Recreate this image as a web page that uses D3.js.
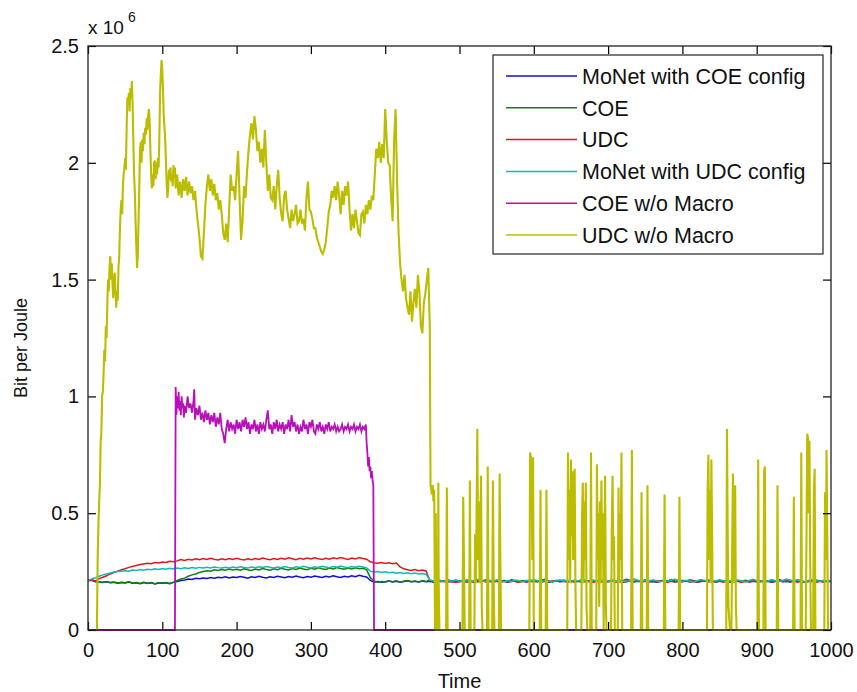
<!DOCTYPE html>
<html><head><meta charset="utf-8">
<script src="https://cdn.jsdelivr.net/npm/d3@7"></script>
<style>body{margin:0;background:#fff}text{font-family:"Liberation Sans",Arial,sans-serif}</style>
</head><body><svg id="c" width="857" height="692"></svg>
<script>
// ---- data (values in units of 10^6 bit per Joule) ----
const xTicks = [0,100,200,300,400,500,600,700,800,900,1000];
const yTicks = [0,0.5,1,1.5,2,2.5];
const seriesNames = ["MoNet with COE config","COE","UDC","MoNet with UDC config","COE w/o Macro","UDC w/o Macro"];
const seriesColors = ["#1010d0","#108010","#e01818","#10b8b8","#b810b8","#bcbc00"];
// sample times for the four low series (every 5 time units)
const lowTimes = d3.range(0, 1001, 5);

const monetCoe = [
0.211,0.213,0.207,0.205,0.203,0.206,0.202,0.204,0.200,0.203,
0.201,0.205,0.200,0.202,0.198,0.203,0.199,0.202,0.197,0.201,
0.200,0.202,0.198,0.204,0.208,0.212,0.214,0.218,0.216,0.221,
0.219,0.223,0.221,0.225,0.222,0.226,0.224,0.228,0.223,0.227,
0.225,0.229,0.226,0.222,0.228,0.225,0.230,0.226,0.223,0.228,
0.225,0.230,0.227,0.224,0.229,0.226,0.231,0.227,0.224,0.229,
0.226,0.231,0.228,0.225,0.230,0.227,0.232,0.228,0.225,0.230,
0.227,0.232,0.228,0.234,0.230,0.227,0.212,0.205,0.208,0.204,
0.207,0.210,0.206,0.209,0.205,0.208,0.211,0.207,0.209,0.206,
0.210,0.207,0.209,0.205,0.208,0.211,0.207,0.210,0.206,0.209,
0.207,0.210,0.206,0.209,0.205,0.208,0.211,0.207,0.209,0.206,
0.210,0.207,0.209,0.205,0.208,0.211,0.207,0.210,0.206,0.209,
0.207,0.210,0.206,0.209,0.205,0.208,0.211,0.207,0.209,0.206,
0.210,0.207,0.209,0.205,0.208,0.211,0.207,0.210,0.206,0.209,
0.207,0.210,0.206,0.209,0.205,0.208,0.211,0.207,0.209,0.206,
0.210,0.207,0.209,0.205,0.208,0.211,0.207,0.210,0.206,0.209,
0.207,0.210,0.206,0.209,0.205,0.208,0.211,0.207,0.209,0.206,
0.210,0.207,0.209,0.205,0.208,0.211,0.207,0.210,0.206,0.209,
0.207,0.210,0.206,0.209,0.205,0.208,0.211,0.207,0.209,0.206,
0.210,0.207,0.209,0.205,0.208,0.211,0.207,0.210,0.206,0.209,
0.208];

const coe = [
0.212,0.215,0.208,0.206,0.204,0.207,0.203,0.205,0.201,0.204,
0.202,0.206,0.201,0.203,0.199,0.204,0.200,0.203,0.198,0.202,
0.201,0.203,0.199,0.205,0.212,0.218,0.222,0.230,0.236,0.240,
0.246,0.250,0.254,0.252,0.258,0.255,0.259,0.256,0.261,0.257,
0.260,0.256,0.262,0.258,0.255,0.261,0.257,0.263,0.259,0.256,
0.262,0.258,0.264,0.260,0.257,0.263,0.259,0.265,0.261,0.258,
0.264,0.260,0.266,0.262,0.259,0.265,0.261,0.267,0.263,0.260,
0.265,0.261,0.266,0.262,0.264,0.258,0.224,0.210,0.205,0.208,
0.206,0.210,0.207,0.211,0.205,0.209,0.212,0.207,0.210,0.206,
0.211,0.208,0.213,0.209,0.206,0.212,0.208,0.214,0.210,0.207,
0.212,0.208,0.214,0.209,0.206,0.213,0.209,0.215,0.210,0.207,
0.211,0.207,0.213,0.208,0.216,0.210,0.206,0.212,0.209,0.214,
0.210,0.206,0.213,0.217,0.211,0.207,0.212,0.208,0.214,0.209,
0.206,0.212,0.208,0.215,0.210,0.207,0.213,0.209,0.205,0.211,
0.208,0.214,0.210,0.206,0.212,0.217,0.211,0.207,0.213,0.209,
0.215,0.210,0.206,0.212,0.208,0.214,0.210,0.216,0.211,0.207,
0.213,0.209,0.215,0.211,0.207,0.212,0.208,0.214,0.210,0.206,
0.212,0.208,0.214,0.209,0.216,0.211,0.207,0.213,0.209,0.215,
0.210,0.206,0.212,0.208,0.214,0.210,0.216,0.211,0.207,0.213,
0.209,0.215,0.210,0.206,0.212,0.208,0.214,0.210,0.207,0.212,
0.209];

const udc = [
0.212,0.215,0.210,0.220,0.226,0.232,0.240,0.246,0.252,0.258,
0.262,0.268,0.272,0.276,0.280,0.283,0.286,0.284,0.289,0.287,
0.291,0.289,0.294,0.292,0.296,0.302,0.298,0.303,0.300,0.305,
0.301,0.306,0.302,0.307,0.303,0.300,0.305,0.301,0.306,0.302,
0.307,0.303,0.300,0.305,0.301,0.306,0.302,0.308,0.304,0.301,
0.306,0.302,0.307,0.303,0.309,0.305,0.301,0.307,0.303,0.308,
0.304,0.309,0.305,0.302,0.307,0.303,0.309,0.305,0.310,0.306,
0.302,0.308,0.304,0.310,0.306,0.303,0.292,0.288,0.286,0.289,
0.285,0.288,0.284,0.287,0.270,0.262,0.258,0.255,0.259,0.254,
0.257,0.253,0.212,0.208,0.211,0.207,0.210,0.206,0.209,0.205,
0.208,0.211,0.207,0.210,0.206,0.209,0.212,0.208,0.210,0.207,
0.209,0.206,0.210,0.207,0.211,0.208,0.205,0.209,0.207,0.210,
0.208,0.211,0.207,0.210,0.206,0.209,0.212,0.208,0.210,0.207,
0.209,0.206,0.210,0.207,0.211,0.208,0.205,0.209,0.207,0.210,
0.208,0.211,0.207,0.210,0.206,0.209,0.212,0.208,0.210,0.207,
0.209,0.206,0.210,0.207,0.211,0.208,0.205,0.209,0.207,0.210,
0.208,0.211,0.207,0.210,0.206,0.209,0.212,0.208,0.210,0.207,
0.209,0.206,0.210,0.207,0.211,0.208,0.205,0.209,0.207,0.210,
0.208,0.211,0.207,0.210,0.206,0.209,0.212,0.208,0.210,0.207,
0.209,0.206,0.210,0.207,0.211,0.208,0.205,0.209,0.207,0.210,
0.208];

const monetUdc = [
0.212,0.218,0.224,0.230,0.236,0.240,0.244,0.248,0.250,0.252,
0.254,0.252,0.257,0.255,0.259,0.256,0.260,0.258,0.262,0.259,
0.263,0.260,0.264,0.261,0.265,0.262,0.266,0.263,0.267,0.264,
0.268,0.265,0.269,0.266,0.270,0.267,0.265,0.269,0.266,0.270,
0.267,0.271,0.268,0.265,0.270,0.267,0.271,0.268,0.272,0.269,
0.266,0.270,0.267,0.272,0.268,0.265,0.271,0.268,0.273,0.269,
0.266,0.271,0.268,0.273,0.270,0.267,0.272,0.269,0.274,0.270,
0.267,0.272,0.269,0.273,0.270,0.266,0.252,0.248,0.250,0.246,
0.249,0.245,0.247,0.243,0.246,0.242,0.245,0.241,0.244,0.240,
0.242,0.238,0.214,0.210,0.216,0.211,0.207,0.213,0.209,0.215,
0.209,0.214,0.210,0.206,0.212,0.217,0.211,0.208,0.213,0.209,
0.215,0.210,0.207,0.212,0.208,0.214,0.211,0.206,0.213,0.209,
0.216,0.211,0.207,0.212,0.209,0.205,0.211,0.215,0.210,0.213,
0.208,0.214,0.210,0.217,0.212,0.208,0.213,0.209,0.215,0.211,
0.207,0.212,0.208,0.214,0.210,0.206,0.213,0.218,0.212,0.208,
0.213,0.209,0.215,0.211,0.207,0.212,0.208,0.214,0.217,0.211,
0.208,0.213,0.209,0.205,0.211,0.216,0.212,0.208,0.213,0.210,
0.215,0.211,0.207,0.212,0.208,0.214,0.210,0.206,0.212,0.217,
0.212,0.208,0.213,0.209,0.215,0.211,0.207,0.212,0.218,0.213,
0.209,0.214,0.210,0.206,0.211,0.216,0.212,0.208,0.213,0.210,
0.211];

// [time, value] points
const coeNoMacro = [
[0,0],[117,0],[117.5,0.5],[118,1.04],[119,0.92],[120,1.0],[121,0.95],[122,1.02],[123,0.94],[124,0.98],[125,0.92],
[126,1.0],[127,0.95],[128,0.97],[129,0.91],[130,0.96],[132,0.93],[134,1.0],[136,0.95],[138,0.97],[140,0.93],
[142,0.98],[143,1.03],[144,0.9],[146,0.95],[148,0.92],[150,0.96],[152,0.9],[154,0.93],[156,0.89],[158,0.94],
[160,0.9],[162,0.93],[164,0.88],[166,0.92],[168,0.89],[170,0.93],[172,0.87],[174,0.91],[176,0.88],[178,0.93],
[180,0.86],[182,0.84],[184,0.8],[186,0.86],[188,0.9],[190,0.85],[192,0.89],[194,0.86],[196,0.88],[198,0.84],
[200,0.9],[202,0.86],[204,0.89],[206,0.85],[208,0.9],[210,0.87],[212,0.91],[214,0.86],[216,0.89],[218,0.84],
[220,0.88],[222,0.86],[224,0.9],[226,0.85],[228,0.88],[230,0.84],[232,0.89],[234,0.86],[236,0.88],[238,0.85],
[240,0.9],[242,0.94],[244,0.86],[246,0.88],[248,0.84],[250,0.89],[252,0.86],[254,0.9],[256,0.85],[258,0.88],
[260,0.86],[262,0.89],[264,0.84],[266,0.88],[268,0.86],[270,0.9],[272,0.85],[274,0.92],[276,0.87],[278,0.89],
[280,0.85],[282,0.88],[284,0.84],[286,0.87],[288,0.85],[290,0.9],[292,0.86],[294,0.88],[296,0.84],[298,0.89],
[300,0.87],[302,0.9],[304,0.85],[306,0.84],[308,0.88],[310,0.86],[312,0.89],[314,0.85],[316,0.87],[318,0.84],
[320,0.88],[322,0.86],[324,0.89],[326,0.85],[328,0.87],[330,0.86],[332,0.88],[334,0.85],[336,0.87],[338,0.85],
[340,0.86],[342,0.88],[344,0.85],[346,0.87],[348,0.86],[350,0.88],[352,0.85],[354,0.87],[356,0.86],[358,0.88],
[360,0.85],[362,0.87],[364,0.86],[366,0.88],[368,0.85],[370,0.87],[372,0.86],[374,0.88],[375,0.8],[376,0.76],
[377,0.7],[378,0.74],[379,0.68],[380,0.7],[381,0.65],[382,0.68],[383,0.64],[384,0.62],[385,0],[1000,0]];

const udcNoMacro = [
[12,0],[13,0.3],[14,0.45],[15,0.55],[16,0.62],[17,0.8],[18,0.85],[19,1.0],[20,1.02],[21,1.1],[22,1.2],[23,1.15],
[24,1.3],[25,1.25],[26,1.4],[27,1.5],[28,1.45],[29,1.55],[30,1.6],[31,1.5],[32,1.57],[33,1.48],[34,1.42],[35,1.5],
[36,1.53],[37,1.45],[38,1.38],[39,1.45],[40,1.41],[41,1.55],[42,1.6],[43,1.72],[44,1.8],[45,1.84],[46,1.78],[47,1.9],
[48,1.95],[49,1.98],[50,2.02],[51,1.97],[52,2.15],[53,2.28],[54,2.25],[55,2.3],[56,2.22],[57,2.32],[58,2.28],[59,2.35],
[60,2.26],[61,2.1],[62,1.95],[63,1.88],[64,1.75],[65,1.65],[66,1.55],[67,1.6],[68,1.75],[69,1.9],[70,2.05],[71,2.09],
[72,2.0],[73,2.1],[74,2.05],[75,2.13],[76,2.08],[77,2.15],[78,2.12],[79,2.19],[80,2.14],[81,2.2],[82,2.23],[83,2.18],
[84,2.05],[85,1.95],[86,1.89],[87,1.95],[88,1.9],[89,2.0],[90,2.01],[91,1.93],[92,2.0],[93,1.95],[94,2.02],[95,1.98],
[96,2.1],[97,2.3],[98,2.38],[99,2.44],[100,2.4],[101,2.3],[102,2.2],[103,2.15],[104,2.09],[105,2.0],[106,1.9],[107,1.85],
[108,1.9],[109,1.97],[110,1.93],[111,1.98],[112,1.92],[113,1.95],[114,1.9],[115,1.99],[116,1.94],[117,1.98],
[118,1.89],[120,1.95],[122,1.86],[124,1.92],[126,1.85],[128,1.93],[130,1.88],[132,1.94],[134,1.86],[136,1.92],
[138,1.87],[140,1.9],[142,1.84],[144,1.88],[146,1.8],[148,1.74],[150,1.68],[152,1.6],[154,1.59],[156,1.7],
[158,1.82],[160,1.9],[162,1.95],[164,1.88],[166,1.93],[168,1.86],[170,1.91],[172,1.84],[174,1.87],[176,1.8],
[178,1.84],[180,1.78],[182,1.7],[184,1.67],[186,1.74],[188,1.66],[190,1.8],[192,1.95],[194,1.88],[196,1.9],
[198,1.84],[200,1.95],[202,2.05],[204,1.85],[206,1.67],[208,1.75],[210,1.9],[212,1.85],[214,1.96],[216,2.05],
[218,2.12],[220,2.17],[222,2.1],[224,2.2],[226,2.14],[228,2.05],[230,2.09],[232,2.0],[234,2.06],[236,1.98],
[238,2.14],[240,2.0],[242,1.88],[244,1.95],[246,1.85],[248,1.84],[250,1.9],[252,1.8],[254,1.9],[256,1.97],
[258,1.85],[260,1.78],[262,1.75],[264,1.86],[266,1.88],[268,1.8],[270,1.76],[272,1.72],[274,1.8],[276,1.75],
[278,1.78],[280,1.82],[282,1.74],[284,1.75],[286,1.8],[288,1.74],[290,1.76],[292,1.71],[294,1.85],[296,1.92],
[298,1.8],[300,1.79],[302,1.76],[304,1.72],[306,1.72],[308,1.68],[310,1.66],[312,1.64],[314,1.62],[316,1.61],
[318,1.63],[320,1.66],[322,1.72],[324,1.79],[326,1.82],[328,1.88],[330,1.85],[332,1.9],[334,1.84],[336,1.92],
[338,1.86],[340,1.78],[342,1.88],[344,1.82],[346,1.9],[348,1.86],[350,1.92],[352,1.8],[354,1.71],[356,1.78],
[358,1.72],[360,1.8],[362,1.75],[364,1.7],[366,1.69],[368,1.78],[370,1.79],[372,1.74],[374,1.82],[376,1.78],
[378,1.84],[380,1.8],[382,1.86],[384,1.84],[386,1.95],[388,2.06],[390,2.02],[392,2.09],[394,2.0],[396,2.08],
[398,2.02],[400,2.23],[402,2.1],[404,2.0],[406,1.99],[408,1.85],[410,1.75],[412,2.1],[414,2.23],[416,1.92],
[418,1.7],[420,1.57],[422,1.5],[424,1.45],[426,1.52],[428,1.42],[430,1.38],[432,1.35],[434,1.45],[436,1.32],
[438,1.4],[440,1.46],[442,1.38],[444,1.52],[446,1.45],[448,1.3],[450,1.27],[452,1.4],[454,1.44],[456,1.5],
[458,1.55],[460,1.3],[461,0.62],[462,0.6],[463,0.58],[464,0.62],[465,0.55],[466,0.6],[467,0],[468,0.5],[469,0],
[471,0],[471.5,0.63],[472,0.2],[473,0],[482,0],[483,0.61],[484,0],[504,0],[505,0.57],[506,0.3],[507,0],
[513,0],[514,0.64],[515,0],[520,0],[521,0.41],[522,0.2],[523,0.5],[524,0.86],[525,0.3],[526,0.55],[527,0.2],
[528,0.45],[529,0.66],[530,0.1],[531,0],[537,0],[538,0.7],[539,0],[544,0],[545,0.64],[546,0.2],[547,0],
[553,0],[554,0.67],[555,0.3],[556,0],[594,0],[595,0.76],[596,0.74],[597,0.72],[598,0.3],[599,0.74],[600,0],
[608,0],[609,0.6],[610,0],[616,0],[617,0.6],[618,0],[645,0],[646,0.76],[647,0.3],[648,0.6],[649,0.2],[650,0.73],
[651,0.4],[652,0.68],[653,0.3],[654,0.55],[655,0.69],[656,0.2],[657,0],[664,0],[665,0.5],[666,0.63],[667,0.2],
[668,0.55],[669,0.3],[670,0.63],[671,0.1],[672,0],[676,0],[677,0.76],[678,0],[684,0],[685,0.71],[686,0.3],
[687,0.5],[688,0.1],[689,0.55],[690,0.2],[691,0.64],[692,0.3],[693,0.5],[694,0],[695,0.4],[696,0.66],[697,0.1],
[698,0],[704,0],[705,0.45],[706,0.66],[707,0.3],[708,0.4],[709,0],[713,0],[714,0.61],[715,0.2],[716,0.5],
[717,0.3],[718,0.76],[719,0],[731,0],[732,0.77],[733,0],[744,0],[745,0.59],[746,0],[752,0],[753,0.62],[754,0],
[775,0],[776,0.58],[777,0],[795,0],[796,0.57],[797,0],[833,0],[834,0.6],[835,0.75],[836,0.3],[837,0.6],[838,0.2],
[839,0.73],[840,0.4],[841,0],[859,0],[860,0.86],[861,0.4],[862,0.1],[864,0],[866,0],[867,0.35],[868,0.67],
[869,0.2],[870,0.5],[871,0.62],[872,0.1],[873,0],[901,0],[902,0.73],[903,0],[909,0],[910,0.68],[911,0.7],
[912,0],[927,0],[928,0.62],[929,0],[949,0],[950,0.57],[951,0],[959,0],[960,0.76],[961,0],[966,0],[967,0.4],
[968,0.84],[969,0.82],[970,0.5],[971,0.81],[972,0.3],[973,0],[976,0],[977,0.6],[978,0.69],[979,0],[991,0],
[992,0.59],[993,0.3],[994,0.77],[995,0.4],[996,0],[1000,0]];

// ---- drawing ----
const svg = d3.select("#c");
const PL = 88, PR = 831, PT = 46, PB = 630;
const xs = d3.scaleLinear().domain([0,1000]).range([PL,PR]);
const ys = d3.scaleLinear().domain([0,2.5]).range([PB,PT]);
const lineGen = d3.line().x(d => xs(d[0])).y(d => ys(d[1]));

const lowSeries = [monetCoe, coe, udc, monetUdc].map(vals => vals.map((v,i) => [lowTimes[i], v]));
const allSeries = [...lowSeries, coeNoMacro, udcNoMacro];
const widths = [1.5,1.5,1.5,1.5,1.8,2.1];

svg.append("rect").attr("x",0).attr("y",0).attr("width",857).attr("height",692).attr("fill","#fff");

const plotG = svg.append("g");
allSeries.forEach((s,i) => {
  plotG.append("path").datum(s).attr("d", lineGen).attr("fill","none")
    .attr("stroke", seriesColors[i]).attr("stroke-width", widths[i]);
});

// axes (drawn on top)
const fs = 20;
const axG = svg.append("g");
axG.append("g").attr("transform",`translate(0,${PB})`)
  .call(d3.axisBottom(xs).tickValues(xTicks).tickSize(-8).tickPadding(13).tickFormat(d3.format("d")));
axG.append("g").attr("transform",`translate(0,${PT})`)
  .call(d3.axisTop(xs).tickValues(xTicks).tickSize(-8).tickFormat(""));
axG.append("g").attr("transform",`translate(${PL},0)`)
  .call(d3.axisLeft(ys).tickValues(yTicks).tickSize(-8).tickPadding(9).tickFormat(d => String(d)));
axG.append("g").attr("transform",`translate(${PR},0)`)
  .call(d3.axisRight(ys).tickValues(yTicks).tickSize(-8).tickFormat(""));
axG.selectAll(".domain").remove();
axG.selectAll(".tick line").attr("stroke","#000").attr("stroke-width",1.2);
axG.selectAll(".tick text").attr("font-size",fs).attr("fill","#111")
  .attr("font-family",'"Liberation Sans",Arial,sans-serif');
svg.append("rect").attr("x",PL).attr("y",PT).attr("width",PR-PL).attr("height",PB-PT)
  .attr("fill","none").attr("stroke","#222").attr("stroke-width",1.3);

// multiplier label
svg.append("text").attr("x",88).attr("y",34).attr("font-size",19).attr("fill","#111").text("x 10");
svg.append("text").attr("x",128).attr("y",22).attr("font-size",14).attr("fill","#111").text("6");

// axis titles
svg.append("text").attr("x",(PL+PR)/2).attr("y",688).attr("text-anchor","middle")
  .attr("font-size",fs).attr("fill","#111").text("Time");
svg.append("text").attr("transform",`translate(27,348) rotate(-90)`).attr("text-anchor","middle")
  .attr("font-size",18).attr("fill","#111").text("Bit per Joule");

// legend
const lg = svg.append("g");
lg.append("rect").attr("x",493).attr("y",55).attr("width",330).attr("height",199)
  .attr("fill","#fff").attr("stroke","#222").attr("stroke-width",1.2);
seriesNames.forEach((name,i) => {
  const cy = 76 + i*31.8;
  lg.append("line").attr("x1",506).attr("x2",577).attr("y1",cy).attr("y2",cy)
    .attr("stroke",seriesColors[i]).attr("stroke-width",1.5);
  lg.append("text").attr("x",582).attr("y",cy).attr("dy","0.36em")
    .attr("font-size",21.5).attr("fill","#111").text(name);
});
</script>
</body></html>
